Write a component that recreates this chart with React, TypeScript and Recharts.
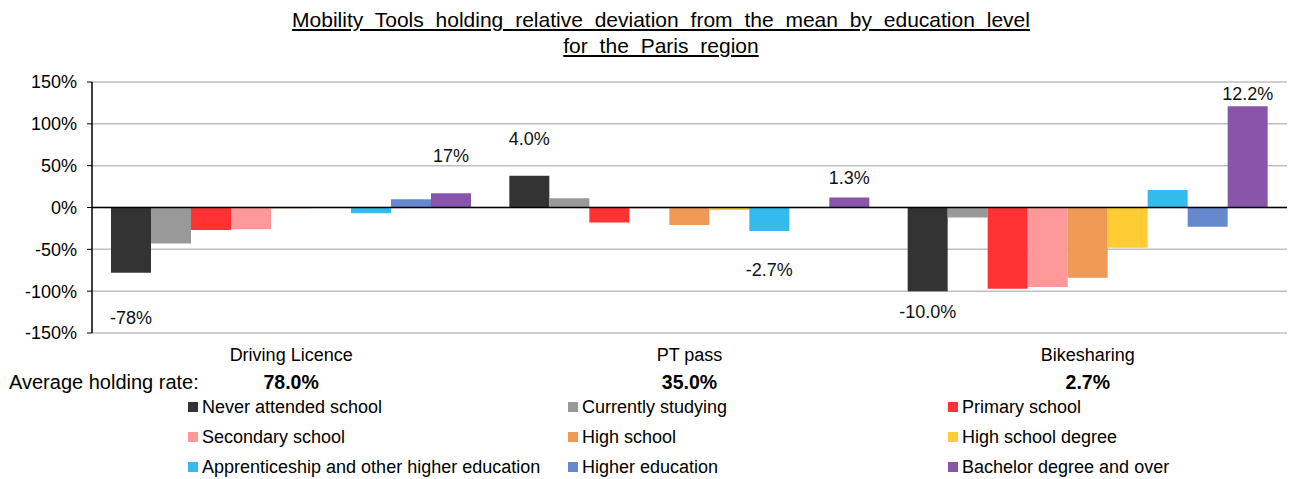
import { Bar, BarChart, CartesianGrid, LabelList, ReferenceLine, XAxis, YAxis } from "recharts";

const categories = ["Driving Licence", "PT pass", "Bikesharing"];
const averageRates = ["78.0%", "35.0%", "2.7%"];
const yTicks = [-150, -100, -50, 0, 50, 100, 150];

// deviation from the mean, in %
const neverAttended = [-78, 38, -100];
const currentlyStudying = [-43, 11, -12];
const primarySchool = [-27, -18, -97];
const secondarySchool = [-26, -1, -95];
const highSchool = [-1, -21, -84];
const highSchoolDegree = [-0.5, -3, -48];
const apprenticeship = [-7, -28, 21];
const higherEducation = [10, 0, -23];
const bachelorAndOver = [17, 12, 121];

// text shown beside some bars
const neverLabels = ["-78%", "4.0%", "-10.0%"];
const apprenticeLabels = ["", "-2.7%", ""];
const bachelorLabels = ["17%", "1.3%", "12.2%"];

const series = [
  { key: "never", name: "Never attended school", color: "#333333", values: neverAttended },
  { key: "current", name: "Currently studying", color: "#999999", values: currentlyStudying },
  { key: "primary", name: "Primary school", color: "#FF3333", values: primarySchool },
  { key: "secondary", name: "Secondary school", color: "#FF9999", values: secondarySchool },
  { key: "high", name: "High school", color: "#EE9955", values: highSchool },
  { key: "degree", name: "High school degree", color: "#FFCC33", values: highSchoolDegree },
  { key: "apprentice", name: "Apprenticeship and other higher education", color: "#33BBEE", values: apprenticeship },
  { key: "higher", name: "Higher education", color: "#6688CC", values: higherEducation },
  { key: "bachelor", name: "Bachelor degree and over", color: "#8855AA", values: bachelorAndOver },
];

const labelTexts: Record<string, string[]> = {
  never: neverLabels,
  apprentice: apprenticeLabels,
  bachelor: bachelorLabels,
};
// distance (px) between bar end and label centre
const labelGaps: Record<string, number[]> = {
  never: [45, 37, 21],
  apprentice: [0, 39, 0],
  bachelor: [37, 19, 12],
};

const chartData = categories.map((category, i) => {
  const row: Record<string, string | number> = { category, average: averageRates[i] };
  series.forEach((s) => {
    row[s.key] = s.values[i];
  });
  return row;
});

const font = "'Liberation Sans', Arial, sans-serif";

function makeLabel(key: string, values: number[]) {
  return (props: any) => {
    const { x, y, width, height, index } = props;
    const text = labelTexts[key][index];
    if (!text) return null;
    const top = Math.min(y, y + height);
    const bottom = Math.max(y, y + height);
    const gap = labelGaps[key][index];
    const cy = values[index] >= 0 ? top - gap : bottom + gap;
    return (
      <text
        x={x + width / 2}
        y={cy}
        textAnchor="middle"
        dominantBaseline="central"
        fontSize={18}
        fill="#111"
        fontFamily={font}
      >
        {text}
      </text>
    );
  };
}

function CategoryTick(props: any) {
  const { x, y, payload, index } = props;
  return (
    <g>
      <text x={x} y={y + 14} textAnchor="middle" dominantBaseline="central" fontSize={18} fill="#000" fontFamily={font}>
        {payload.value}
      </text>
      <text
        x={x}
        y={y + 41}
        textAnchor="middle"
        dominantBaseline="central"
        fontSize={19.5}
        fontWeight="bold"
        fill="#000"
        fontFamily={font}
      >
        {averageRates[index]}
      </text>
    </g>
  );
}

const legendRows = [series.slice(0, 3), series.slice(3, 6), series.slice(6, 9)];
const legendCols = [188, 568, 948];

export default function App() {
  return (
    <div style={{ position: "relative", width: 1293, height: 479, background: "#fff", fontFamily: font }}>
      <style>{`body{margin:0}`}</style>
      <div
        style={{
          position: "absolute",
          left: 0,
          top: 7,
          width: 1322,
          textAlign: "center",
          fontSize: 21,
          lineHeight: "26px",
          textDecoration: "underline",
          wordSpacing: 6,
          color: "#000",
        }}
      >
        Mobility Tools holding relative deviation from the mean by education level
        <br />
        for the Paris region
      </div>

      <div style={{ position: "absolute", left: 0, top: 0 }}>
        <BarChart
          width={1293}
          height={479}
          data={chartData}
          margin={{ top: 82, right: 6, left: 0, bottom: 79 }}
          barCategoryGap={19}
          barGap={0}
        >
          <CartesianGrid vertical={false} stroke="#BFBFBF" strokeWidth={1.5} />
          <XAxis dataKey="category" axisLine={false} tickLine={false} height={67} tick={<CategoryTick />} interval={0} />
          <YAxis
            domain={[-150, 150]}
            ticks={yTicks}
            width={92}
            tickFormatter={(v: number) => `${v}%`}
            axisLine={{ stroke: "#000", strokeWidth: 1.5 }}
            tickLine={{ stroke: "#000" }}
            tickSize={5}
            tickMargin={10}
            tick={{ fontSize: 18, fill: "#000", fontFamily: font }}
          />
          {series.map((s) => (
            <Bar key={s.key} dataKey={s.key} name={s.name} fill={s.color} isAnimationActive={false}>
              {labelTexts[s.key] && <LabelList dataKey={s.key} content={makeLabel(s.key, s.values)} />}
            </Bar>
          ))}
          <ReferenceLine y={0} stroke="#000" strokeWidth={1.5} />
        </BarChart>
      </div>

      <div style={{ position: "absolute", left: 9, top: 370, fontSize: 20, lineHeight: "24px", color: "#000" }}>
        Average holding rate:
      </div>

      {legendRows.map((row, r) =>
        row.map((s, c) => (
          <div
            key={s.key}
            style={{
              position: "absolute",
              left: legendCols[c],
              top: 395 + r * 30,
              display: "flex",
              alignItems: "center",
              fontSize: 18,
              lineHeight: "24px",
              color: "#000",
              whiteSpace: "nowrap",
            }}
          >
            <span style={{ width: 10, height: 10, background: s.color, marginRight: 4, display: "inline-block" }} />
            {s.name}
          </div>
        ))
      )}
    </div>
  );
}
